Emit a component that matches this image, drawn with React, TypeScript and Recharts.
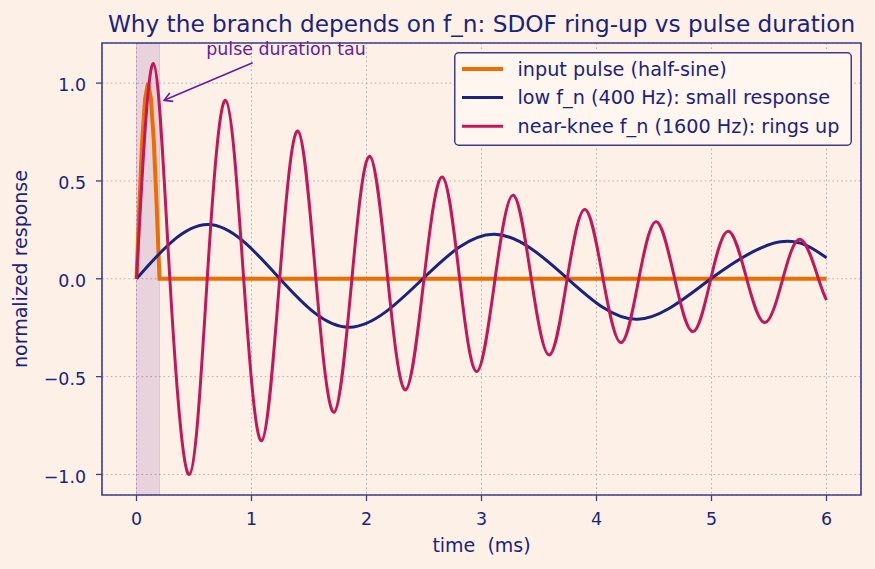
import React from 'react';
import {
  LineChart,
  Line,
  XAxis,
  YAxis,
  CartesianGrid,
  ReferenceArea,
  ReferenceLine,
  ReferenceDot,
  Legend,
} from 'recharts';

// ---------- data ----------
const xTicks = [0, 1, 2, 3, 4, 5, 6];
const yTicks = [-1.0, -0.5, 0.0, 0.5, 1.0];
const xDomain = [-0.3, 6.3];
const yDomain = [-1.105, 1.205];
const pulseSpan = [0, 0.2];

const pulseTime = [0, 0.025, 0.05, 0.075, 0.1, 0.125, 0.15, 0.175, 0.2, 6.0];
const pulseValue = [0, 0.38, 0.71, 0.92, 1.0, 0.92, 0.71, 0.38, 0, 0];

const lowTime = [0, 0.624, 1.247, 1.854, 2.49, 3.113, 3.75, 4.357, 4.994, 5.6, 6.0];
const lowValue = [0, 0.277, 0, -0.248, 0, 0.228, 0, -0.207, 0, 0.189, 0.107];

const kneeTime = [
  0, 0.147, 0.29, 0.46, 0.615, 0.775, 0.932, 1.088, 1.245, 1.403, 1.56, 1.718, 1.873,
  2.028, 2.185, 2.34, 2.5, 2.659, 2.81, 2.96, 3.118, 3.276, 3.433, 3.59, 3.745, 3.9,
  4.057, 4.215, 4.368, 4.52, 4.68, 4.84, 4.994, 5.147, 5.306, 5.465, 5.62, 5.775, 5.93, 6.0,
];
const kneeValue = [
  0, 1.1, 0, -1.0, 0, 0.912, 0, -0.828, 0, 0.755, 0, -0.682, 0,
  0.626, 0, -0.568, 0, 0.52, 0, -0.474, 0, 0.427, 0, -0.389, 0, 0.354,
  0, -0.326, 0, 0.291, 0, -0.27, 0, 0.243, 0, -0.224, 0, 0.201, 0, -0.109,
];

const seriesNames = [
  'input pulse (half-sine)',
  'low f_n (400 Hz): small response',
  'near-knee f_n (1600 Hz): rings up',
];

const annotationText = 'pulse duration tau';
const annotationArrow = [
  { x: 1.01, y: 1.104 },
  { x: 0.24, y: 0.912 },
];
const annotationAnchor = { x: 1.3, y: 1.144 };

// ---------- styles ----------
const BG = '#fdf1e7';
const INK = '#1a237e';
const SPINE = '#3d3d8a';
const ORANGE = '#ef6c00';
const NAVY = '#1a237e';
const CRIMSON = '#c2185b';
const PURPLE = '#6a1b9a';
const GRID = '#b9b0b6';
const FONT = '"DejaVu Sans", Verdana, sans-serif';

const seriesColors = [ORANGE, NAVY, CRIMSON];
const seriesWidths = [4, 3, 3];

const toRows = (ts: number[], vs: number[]) => ts.map((t, i) => ({ t, v: vs[i] }));
const pulseData = toRows(pulseTime, pulseValue);
const lowData = toRows(lowTime, lowValue);
const kneeData = toRows(kneeTime, kneeValue);

const fmtY = (v: number) => (v < 0 ? '\u2212' : '') + Math.abs(v).toFixed(1);

const LegendBox = () => (
  <svg width={398} height={94} style={{ display: 'block', overflow: 'visible' }}>
    <rect x={0.75} y={0.75} width={396.5} height={92.5} rx={4} fill="#fef6ef" stroke={SPINE} strokeWidth={1.5} />
    {seriesNames.map((name, i) => {
      const cy = 17 + i * 28.6;
      return (
        <g key={name}>
          <line x1={8} x2={49} y1={cy} y2={cy} stroke={seriesColors[i]} strokeWidth={seriesWidths[i]} />
          <text x={63.5} y={cy + 6.8} fontSize={19.2} fill={INK} fontFamily={FONT}>
            {name}
          </text>
        </g>
      );
    })}
  </svg>
);

const Arrow = (props: any) => {
  const { x1, y1, x2, y2 } = props;
  const dx = x2 - x1;
  const dy = y2 - y1;
  const len = Math.sqrt(dx * dx + dy * dy) || 1;
  const ux = dx / len;
  const uy = dy / len;
  const hl = 8;
  const hw = 4.5;
  const bx = x2 - ux * hl;
  const by = y2 - uy * hl;
  const px = -uy * hw;
  const py = ux * hw;
  return (
    <g>
      <line x1={x1} y1={y1} x2={x2} y2={y2} stroke={PURPLE} strokeWidth={1.6} />
      <polyline
        points={`${bx + px},${by + py} ${x2},${y2} ${bx - px},${by - py}`}
        fill="none"
        stroke={PURPLE}
        strokeWidth={1.6}
      />
    </g>
  );
};

const AnnotationText = (props: any) => (
  <text x={props.cx} y={props.cy} textAnchor="middle" fontSize={17.4} fill={PURPLE} fontFamily={FONT}>
    {annotationText}
  </text>
);

export default function App() {
  return (
    <div style={{ position: 'absolute', left: 0, top: 0, width: 875, height: 569, background: BG, fontFamily: FONT }}>
      <LineChart
        width={875}
        height={569}
        margin={{ top: 43, right: 14, bottom: 0, left: 0 }}
        style={{ background: BG }}
      >
        <CartesianGrid stroke={GRID} strokeDasharray="1.6 2.8" strokeWidth={1} />
        <ReferenceArea
          x1={pulseSpan[0]}
          x2={pulseSpan[1]}
          y1={yDomain[0]}
          y2={yDomain[1]}
          fill={PURPLE}
          fillOpacity={0.14}
          stroke={PURPLE}
          strokeOpacity={0.15}
          ifOverflow="visible"
        />
        <XAxis
          type="number"
          dataKey="t"
          domain={xDomain}
          ticks={xTicks}
          allowDataOverflow
          height={74}
          axisLine={false}
          tickLine={{ stroke: SPINE, strokeWidth: 1.3 }}
          tickSize={6}
          tickMargin={12}
          tick={{ fill: INK, fontSize: 17.4, fontFamily: FONT }}
          tickFormatter={(v: number) => String(v)}
        />
        <YAxis
          type="number"
          domain={yDomain}
          ticks={yTicks}
          allowDataOverflow
          width={102}
          axisLine={false}
          tickLine={{ stroke: SPINE, strokeWidth: 1.3 }}
          tickSize={6}
          tickMargin={10}
          tick={{ fill: INK, fontSize: 17.4, fontFamily: FONT, dy: 2 }}
          tickFormatter={fmtY}
        />
        <Line
          data={pulseData}
          dataKey="v"
          name={seriesNames[0]}
          type="linear"
          stroke={ORANGE}
          strokeWidth={seriesWidths[0]}
          dot={false}
          activeDot={false}
          isAnimationActive={false}
        />
        <Line
          data={lowData}
          dataKey="v"
          name={seriesNames[1]}
          type="natural"
          stroke={NAVY}
          strokeWidth={seriesWidths[1]}
          dot={false}
          activeDot={false}
          isAnimationActive={false}
        />
        <Line
          data={kneeData}
          dataKey="v"
          name={seriesNames[2]}
          type="natural"
          stroke={CRIMSON}
          strokeWidth={seriesWidths[2]}
          dot={false}
          activeDot={false}
          isAnimationActive={false}
        />
        <ReferenceLine segment={annotationArrow} shape={Arrow} ifOverflow="visible" />
        <ReferenceDot
          x={annotationAnchor.x}
          y={annotationAnchor.y}
          r={0}
          shape={AnnotationText}
          ifOverflow="visible"
        />
        <ReferenceArea
          x1={xDomain[0]}
          x2={xDomain[1]}
          y1={yDomain[0]}
          y2={yDomain[1]}
          fill="none"
          stroke={SPINE}
          strokeWidth={1.6}
          ifOverflow="visible"
        />
        <Legend
          layout="vertical"
          align="center"
          verticalAlign="middle"
          content={() => <LegendBox />}
          wrapperStyle={{ left: 454, top: 52, width: 398, height: 94 }}
        />
      </LineChart>
      <svg
        width={875}
        height={569}
        style={{ position: 'absolute', left: 0, top: 0, pointerEvents: 'none' }}
      >
        <text x={481.5} y={31.7} textAnchor="middle" fontSize={23.2} fill={INK} fontFamily={FONT}>
          Why the branch depends on f_n: SDOF ring-up vs pulse duration
        </text>
        <text
          x={481.5}
          y={551.5}
          textAnchor="middle"
          fontSize={19}
          fill={INK}
          fontFamily={FONT}
          style={{ whiteSpace: 'pre' }}
        >
          {'time  (ms)'}
        </text>
        <text
          x={0}
          y={0}
          transform="translate(26.7,269) rotate(-90)"
          textAnchor="middle"
          fontSize={19}
          fill={INK}
          fontFamily={FONT}
        >
          normalized response
        </text>
      </svg>
    </div>
  );
}
